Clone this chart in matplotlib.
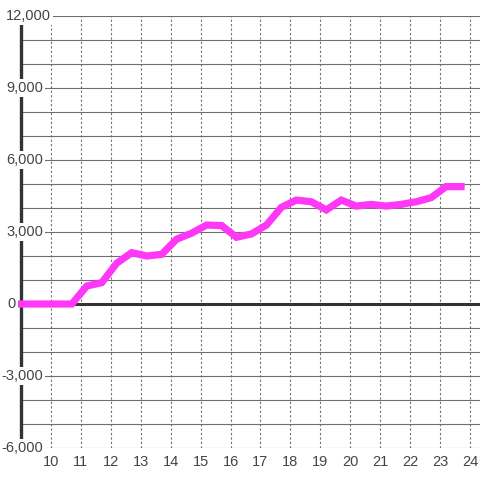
import numpy as np
import matplotlib.pyplot as plt
from matplotlib.patches import Rectangle

# data
hours = [8.7, 9.2, 9.7, 10.2, 10.7, 11.2, 11.7, 12.2, 12.7, 13.2, 13.7, 14.2, 14.7,
         15.2, 15.7, 16.2, 16.7, 17.2, 17.7, 18.2, 18.7, 19.2, 19.7, 20.2, 20.7,
         21.2, 21.7, 22.2, 22.7, 23.2, 23.7]
valores = [0, 0, 0, 0, 0, 750, 890, 1700, 2140, 2000, 2070, 2700, 2950,
           3290, 3270, 2780, 2920, 3290, 4030, 4330, 4260, 3920, 4330, 4080, 4150,
           4080, 4150, 4260, 4430, 4890, 4890]
x_ticks = list(range(10, 25))
y_ticks = [-6000, -3000, 0, 3000, 6000, 9000, 12000]
y_labels = ['-6,000', '-3,000', '0', '3,000', '6,000', '9,000', '12,000']

fig = plt.figure(figsize=(4.8, 4.8), dpi=100)
ax = fig.add_axes([0, 32 / 480, 1, 432 / 480])
ax.set_xlim(8.3, 24 + 10 / 30)
ax.set_ylim(-6000, 12000)
ax.axis('off')

cinza = '#6e6e6e'
# horizontal grid every 1000
for v in range(-6000, 12001, 1000):
    if v == 0:
        continue
    ax.plot([9, 24.4], [v, v], color=cinza, lw=0.8, zorder=1, solid_capstyle='butt')

# vertical dotted grid
for t in x_ticks:
    ax.plot([t, t], [-6000, 12000], color=cinza, lw=0.8, dashes=(2, 2), zorder=1)

ax.axhline(0, color='#333333', lw=2.2, zorder=2)
ax.axvline(9, color='#333333', lw=2.4, zorder=2)

ax.plot(hours, valores, color='#ff38f8', lw=5.2, zorder=3,
        solid_capstyle='projecting', solid_joinstyle='miter')

# white margin left of the "0" label
ax.add_patch(Rectangle((0, -350), 17 / 480, 700, transform=ax.get_yaxis_transform(),
                       facecolor='white', edgecolor='none', zorder=4, clip_on=False))

fonte = dict(family='Liberation Sans', size=10.5, color='#444444')
tr = ax.get_yaxis_transform()
caixa = dict(facecolor='white', edgecolor='none', pad=1.5)
for v, lab in zip(y_ticks, y_labels):
    if lab == '12,000':
        ax.text(6 / 480, v, lab, transform=tr, ha='left', va='center',
                bbox=caixa, zorder=5, **fonte)
    elif lab == '0':
        ax.text(16 / 480, v, lab, transform=tr, ha='right', va='center',
                bbox=caixa, zorder=5, **fonte)
    else:
        ax.text(43 / 480, v, lab, transform=tr, ha='right', va='center',
                bbox=caixa, zorder=5, **fonte)

trx = ax.get_xaxis_transform()
for t in x_ticks:
    ax.text(t, -14 / 432, str(t), transform=trx, ha='center', va='center', **fonte)

fig.savefig('out.png', dpi=100)
